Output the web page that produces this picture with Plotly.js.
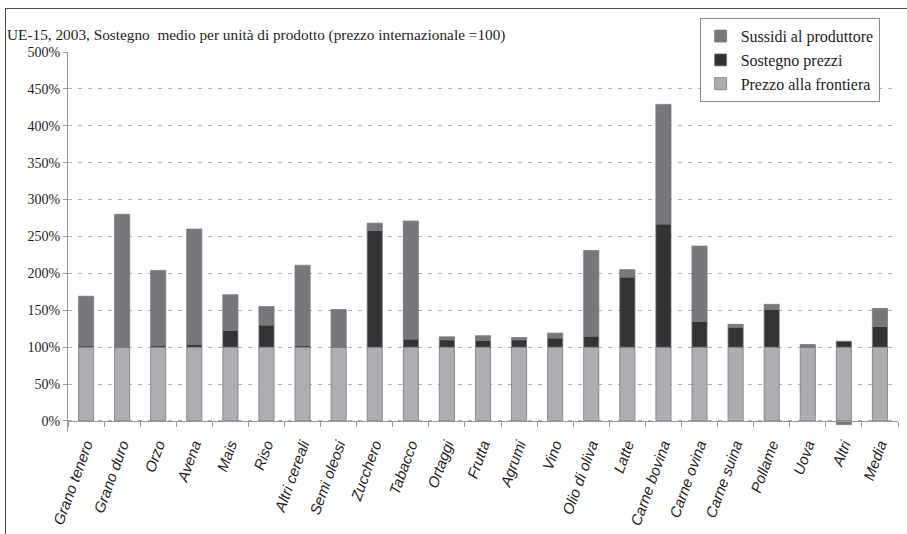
<!DOCTYPE html>
<html>
<head>
<meta charset="utf-8">
<script src="https://cdn.plot.ly/plotly-3.0.1.min.js"></script>
<style>
  html, body { margin: 0; padding: 0; background: #fff; }
  #wrap { position: relative; width: 907px; height: 534px; overflow: hidden; }
  #chart { width: 907px; height: 534px; }
  #frame {
    position: absolute; left: 5px; top: 8px; width: 920px; height: 540px;
    border-top: 1.5px solid #4a4a4a; border-left: 1.5px solid #4a4a4a;
    pointer-events: none;
  }
</style>
</head>
<body>
<div id="wrap">
  <div id="chart"></div>
  <div id="frame"></div>
</div>
<script>
// Prodotti agricoli UE-15, 2003 (prezzo internazionale = 100)
const prodotti = [
  "Grano tenero", "Grano duro", "Orzo", "Avena", "Mais", "Riso",
  "Altri cereali", "Semi oleosi", "Zucchero", "Tabacco", "Ortaggi",
  "Frutta", "Agrumi", "Vino", "Olio di oliva", "Latte", "Carne bovina",
  "Carne ovina", "Carne suina", "Pollame", "Uova", "Altri", "Media"
];

// Prezzo alla frontiera (base)
const prezzoFrontiera = [100, 100, 100, 100, 100, 100, 100, 100, 100, 100, 100,
                         100, 100, 100, 100, 100, 100, 100, 100, 100, 100, 100, 100];

// Sostegno prezzi
const sostegnoPrezzi = [2, 0, 2.5, 4, 23, 30, 2.5, 0, 158, 11, 10,
                        9, 10, 12.5, 15, 95, 167, 35, 27, 51, 0, 8, 28];

// Sussidi al produttore
const sussidiProduttore = [67, 180, 101.5, 156, 48, 25, 108.5, 51, 10, 160, 4,
                           6.5, 3, 6.5, 116, 10, 162, 102, 4, 7, 3.5, -5, 24.5];

// Etichette dell'asse verticale
const etichetteY = ["0%", "50%", "100%", "150%", "200%", "250%", "300%", "350%", "400%", "450%", "500%"];
const valoriY = [0, 50, 100, 150, 200, 250, 300, 350, 400, 450, 500];

const serif = "Liberation Serif, Times New Roman, serif";
const narrow = "Liberation Sans Narrow, Arial Narrow, Liberation Sans, sans-serif";
const outline = { color: "#7a7b7f", width: 0.8 };

const traces = [
  {
    type: "bar", name: "Prezzo alla frontiera", x: prodotti, y: prezzoFrontiera,
    marker: { color: "#adaeb2", line: outline }
  },
  {
    type: "bar", name: "Sostegno prezzi", x: prodotti, y: sostegnoPrezzi,
    marker: { color: "#333333", line: outline }
  },
  {
    type: "bar", name: "Sussidi al produttore", x: prodotti, y: sussidiProduttore,
    marker: { color: "#77787c", line: outline }
  }
];

const layout = {
  width: 907, height: 534,
  margin: { l: 68, r: 9, t: 52, b: 102 },
  paper_bgcolor: "#ffffff", plot_bgcolor: "#ffffff",
  barmode: "relative",
  bargap: 0.58,
  showlegend: true,
  hovermode: false,
  title: {
    text: "UE-15, 2003, Sostegno  medio per unità di prodotto (prezzo internazionale =100)",
    x: 7 / 907, xanchor: "left", xref: "container",
    y: 1 - 35 / 534, yanchor: "middle", yref: "container",
    font: { family: serif, size: 15.3, color: "#1e1e1e" }
  },
  legend: {
    x: 0.761, xanchor: "left", y: 1.089, yanchor: "top",
    traceorder: "reversed",
    bgcolor: "#ffffff", bordercolor: "#8a8a8a", borderwidth: 1,
    font: { family: serif, size: 16, color: "#1e1e1e" },
    itemwidth: 30
  },
  xaxis: {
    type: "category",
    anchor: "free", position: 15 / 515,
    showline: true, linecolor: "#9a9a9a", linewidth: 1,
    ticks: "outside", tickson: "boundaries", ticklen: 5, tickcolor: "#9a9a9a",
    tickangle: -70, ticklabelstandoff: 8,
    tickfont: { family: narrow, size: 15, color: "#1e1e1e", style: "italic" },
    showgrid: false, zeroline: false
  },
  yaxis: {
    range: [-15, 500],
    tickvals: valoriY,
    ticktext: etichetteY,
    showline: true, linecolor: "#9a9a9a", linewidth: 1,
    ticks: "outside", ticklen: 4, tickcolor: "#9a9a9a",
    tickfont: { family: serif, size: 14, color: "#1e1e1e" },
    showgrid: true, gridcolor: "#b0b0b0", griddash: "4px,6px", gridwidth: 1,
    zeroline: false
  }
};

Plotly.newPlot("chart", traces, layout, { displayModeBar: false, staticPlot: true });
</script>
</body>
</html>
